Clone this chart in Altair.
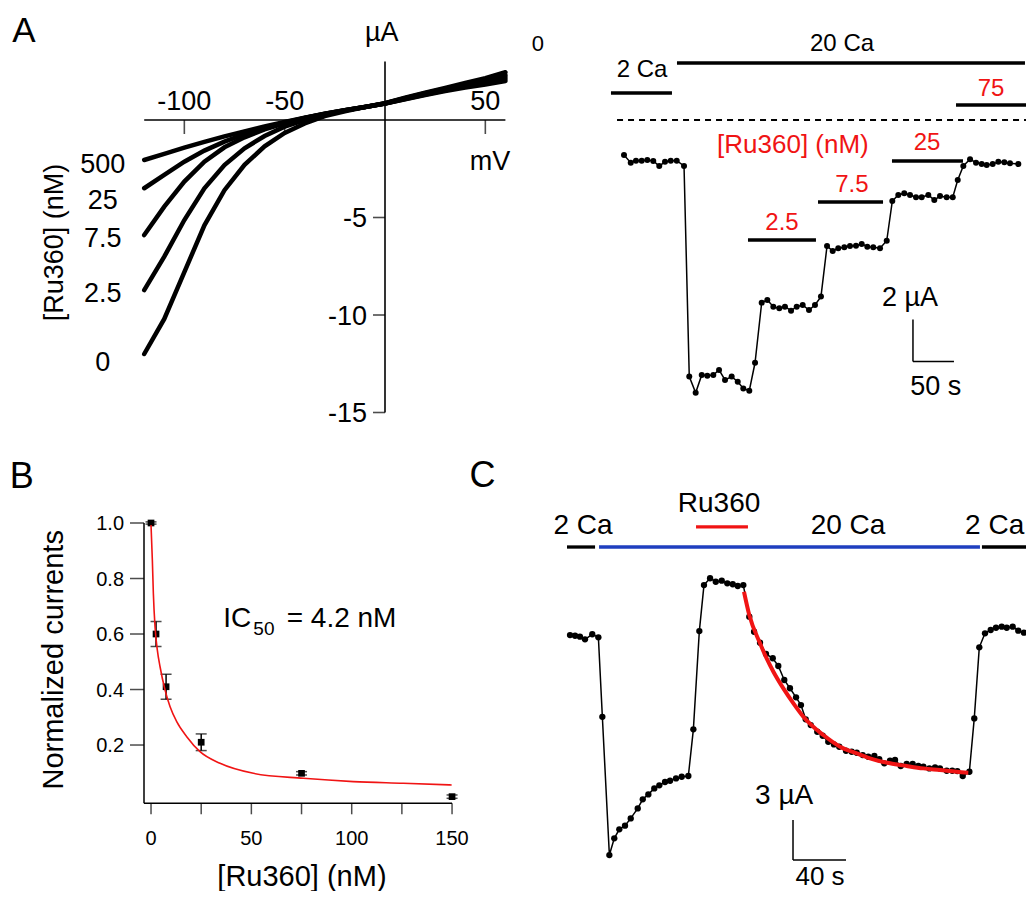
import altair as alt
import pandas as pd

FONT = "Liberation Sans, Arial, Helvetica, sans-serif"
W, H, M = 1018, 883, 8
RED = "#f01414"
BLUE = "#1f3fbf"

# ---------------- Panel A (left): I-V curves ----------------
iv_mv = [-120, -110, -100, -90, -80, -70, -60, -50, -40, -30, -20, -10, 0, 10, 20, 30, 40, 50, 60]
iv_conc = ["0", "2.5", "7.5", "25", "500"]
iv_c0 = [-12.0, -10.2, -7.8, -5.4, -3.6, -2.3, -1.35, -0.66, -0.18, 0.2, 0.45, 0.66, 0.86, 1.14, 1.40, 1.65, 1.9, 2.15, 2.45]
iv_c2_5 = [-8.72, -7.01, -5.13, -3.50, -2.31, -1.45, -0.82, -0.34, 0.0, 0.29, 0.49, 0.67, 0.86, 1.12, 1.37, 1.60, 1.83, 2.05, 2.3]
iv_c7_5 = [-5.90, -4.44, -3.16, -2.14, -1.40, -0.89, -0.48, -0.17, 0.10, 0.31, 0.50, 0.67, 0.85, 1.10, 1.34, 1.56, 1.78, 1.98, 2.2]
iv_c25 = [-3.50, -2.82, -2.14, -1.57, -1.11, -0.72, -0.40, -0.12, 0.11, 0.32, 0.50, 0.67, 0.84, 1.08, 1.31, 1.52, 1.72, 1.9, 2.1]
iv_c500 = [-2.05, -1.74, -1.42, -1.12, -0.84, -0.58, -0.33, -0.10, 0.12, 0.32, 0.50, 0.67, 0.84, 1.06, 1.28, 1.48, 1.66, 1.82, 2.0]
iv_xticks = [-100, -50, 50]
iv_xtick_labels = ["-100", "-50", "50"]
iv_yticks = [-5, -10, -15]
iv_ytick_labels = ["-5", "-10", "-15"]
iv_conc_label_y = [-12.4, -8.85, -6.03, -4.05, -2.22]

# ---------------- Panel A (right): time course ----------------
ar_t = [0, 8.2, 14.6, 21.6, 28.4, 35.7, 43.0, 50.0, 57.0, 64.3, 73.2, 79.6, 87.4, 94.8, 101.6, 108.9,
        115.9, 123.2, 131.3, 138.7, 145.5, 152.8, 159.8, 167.9, 174.8, 182.1, 189.4, 196.3, 203.7, 210.6,
        217.9, 225.6, 232.9, 240.2, 247.6, 254.5, 261.3, 268.7, 275.6, 282.9, 289.9, 296.7, 304.0, 312.2,
        320.4, 327.2, 334.5, 341.8, 348.8, 356.1, 363.0, 371.1, 378.4, 385.4, 393.5, 400.9, 407.0, 413.8,
        422.0, 429.3, 436.2, 442.3, 449.6, 456.5, 463.8, 470.7, 480.9]
ar_i = [-1.67, -2.03, -1.94, -1.94, -1.90, -1.95, -2.19, -1.99, -1.94, -1.94, -2.19,
        -12.22, -12.99, -12.14, -12.18, -12.14, -11.90, -12.38, -12.22, -12.46, -12.78, -12.89,
        -11.56, -8.70, -8.57, -8.89, -8.97, -8.89, -9.08, -8.89, -8.81, -9.05, -8.81, -8.41,
        -6.00, -6.24, -6.11, -6.06, -6.00, -5.99, -5.90, -6.03, -6.06, -6.11, -5.75,
        -3.86, -3.57, -3.49, -3.57, -3.68, -3.68, -3.57, -3.81, -3.62, -3.68, -3.68,
        -2.86, -2.19, -1.87, -2.03, -2.10, -2.14, -2.10, -1.99, -2.01, -2.06, -2.10]
ar_bar_start = [64.6, -15.9, 404.9, 326.8, 236.6, 151.2]
ar_bar_end = [489.0, 58.5, 491.5, 413.4, 315.9, 234.1]
ar_bar_level = [2.71, 1.29, 0.71, -1.95, -3.90, -5.71]
ar_zero_start, ar_zero_end = -8.5, 491.5
ar_red_labels = ["75", "[Ru360] (nM)", "25", "7.5", "2.5"]
ar_red_x = [447.6, 206.0, 369.5, 278.0, 192.7]
ar_red_y = [1.57, -1.1, -1.0, -3.0, -4.81]
ar_red_size = [24, 26, 24, 24, 24]
ar_black_labels = ["20 Ca", "2 Ca", "0"]
ar_black_x = [265.9, 22.0, -104.9]
ar_black_y = [3.67, 2.43, 3.67]
ar_black_size = [24, 24, 22]
ar_sb_t0, ar_sb_len = 352.4, 50      # 50 s
ar_sb_i0, ar_sb_amp = -11.5, 2       # 2 µA

# ---------------- Panel B: dose response ----------------
b_conc = [0, 2.5, 7.5, 25, 75, 150]
b_norm = [1.0, 0.60, 0.41, 0.21, 0.098, 0.014]
b_err = [0.004, 0.045, 0.045, 0.03, 0.006, 0.006]
b_fit_x = [0.0, 0.66, 1.16, 2.0, 3.15, 4.5, 7.0, 9.5, 12.8, 17.8, 24.4, 34.4, 51.0, 75.9, 100.8, 125.7, 149.8]
b_fit_y = [0.993, 0.867, 0.747, 0.626, 0.542, 0.482, 0.398, 0.338, 0.284, 0.230, 0.176, 0.134, 0.098, 0.080, 0.068, 0.062, 0.056]
b_xticks = [0, 25, 50, 75, 100, 125, 150]
b_xlabels = [0, 50, 100, 150]
b_yticks = [0.2, 0.4, 0.6, 0.8, 1.0]
b_ylabels = ["0.2", "0.4", "0.6", "0.8", "1.0"]

# ---------------- Panel C: time course with washout ----------------
c_t = [0.0, 3.8, 7.5, 11.3, 16.8, 21.4, 24.4, 29.7, 33.4, 37.2,
       41.5, 45.8, 51.1, 54.9, 59.1, 63.6, 67.4, 71.7, 75.5, 80.0,
       84.3, 89.3, 93.1, 97.6, 101.1, 105.7, 110.0, 114.5, 118.7, 122.8,
       126.6, 130.8, 135.3, 138.9, 143.4, 147.9, 153.0, 157.2, 161.7, 166.0,
       170.6, 174.3, 177.9, 181.7, 186.6, 190.7, 194.9, 199.2, 203.2, 208.3,
       212.6, 216.4, 220.9, 225.1, 229.7, 233.4, 237.2, 241.5, 245.3, 249.6,
       254.1, 258.6, 262.9, 266.7, 271.2, 275.5, 279.2, 284.3, 288.5, 292.3,
       296.4, 301.4, 305.1, 308.9, 313.2, 317.5, 321.5, 325.8, 329.6, 334.1,
       338.3, 342.6]
c_i = [-5.63, -5.68, -5.75, -5.95, -5.57, -5.80, -11.76, -22.13, -20.88, -20.20,
       -19.93, -19.38, -18.63, -17.95, -17.58, -17.13, -16.90, -16.65, -16.56, -16.38,
       -16.26, -16.20, -12.70, -5.33, -1.88, -1.37, -1.63, -1.55, -1.75, -1.82,
       -1.95, -1.88, -4.25, -5.38, -6.20, -7.05, -7.37, -7.95, -9.00, -9.62,
       -10.30, -10.88, -11.95, -12.38, -12.88, -13.18, -13.63, -13.83, -14.01, -14.31,
       -14.38, -14.46, -14.63, -14.76, -14.70, -14.93, -15.25, -15.06, -15.00, -15.45,
       -15.30, -15.30, -15.45, -15.51, -15.63, -15.55, -15.63, -15.81, -15.81, -15.83,
       -16.20, -15.88, -11.88, -6.55, -5.50, -5.25, -5.08, -5.00, -5.08, -5.00,
       -5.30, -5.45]
c_fit_t = [131.3, 135.3, 143.4, 148.4, 153.5, 161.0, 168.6, 176.1, 191.2, 203.8, 216.4, 228.9, 241.5, 254.1, 266.7, 279.2, 291.8, 300.6]
c_fit_i = [-2.38, -4.13, -6.25, -7.38, -8.38, -9.63, -10.75, -11.75, -13.13, -14.0, -14.5, -14.95, -15.25, -15.45, -15.63, -15.75, -15.88, -15.95]
c_bar_start = [-2.3, 21.9, 310.9, 95.1]
c_bar_end = [18.9, 309.4, 344.9, 134.3]
c_bar_level = [0.975, 0.975, 0.975, 2.48]
c_bar_color = ["#000000", BLUE, "#000000", RED]
c_labels = ["2 Ca", "Ru360", "20 Ca", "2 Ca", "3 µA", "40 s"]
c_label_x = [9.8, 112.5, 209.8, 320.5, 161.6, 188.7]
c_label_y = [2.63, 4.35, 2.63, 2.63, -17.6, -23.7]
c_label_size = [28, 28, 28, 28, 28, 26]
c_sb_t0, c_sb_len = 168.3, 40        # 40 s
c_sb_i0, c_sb_amp = -22.5, 3         # 3 µA


# ---------------- helpers ----------------
def lin(domain, px0, px1):
    return alt.Scale(domain=domain, range=[px0 - M, px1 - M], nice=False, zero=False)


def XY(sx, sy, xf="x", yf="y"):
    return dict(x=alt.X(f"{xf}:Q", scale=sx, axis=None), y=alt.Y(f"{yf}:Q", scale=sy, axis=None))


def texts(df, sx, sy, size=None, **kw):
    props = dict(font=FONT, color="black", align="center", baseline="middle")
    if size is not None:
        props["fontSize"] = size
        props["dy"] = round(0.06 * size, 1)
    else:
        props["dy"] = 1.5
    props.update(kw)
    enc = XY(sx, sy)
    enc["text"] = alt.Text("label:N")
    if size is None:
        enc["size"] = alt.Size("fs:Q", scale=None)
    return alt.Chart(df).mark_text(**props).encode(**enc)


def hrules(df, sx, sy, **kw):
    enc = XY(sx, sy)
    enc["x2"] = alt.X2("x2:Q")
    return alt.Chart(df).mark_rule(**kw).encode(**enc)


def vrules(df, sx, sy, **kw):
    enc = XY(sx, sy)
    enc["y2"] = alt.Y2("y2:Q")
    return alt.Chart(df).mark_rule(**kw).encode(**enc)


# ---------------- Panel A left ----------------
sxA = lin([-120, 60], 144.2, 505.4)
syA = lin([-15, 3], 412.5, 61.5)
iv_rows = []
for name, vals in zip(iv_conc, [iv_c0, iv_c2_5, iv_c7_5, iv_c25, iv_c500]):
    for v, cur in zip(iv_mv, vals):
        iv_rows.append({"x": v, "y": cur, "conc": name})
iv_df = pd.DataFrame(iv_rows)

a_curves = alt.Chart(iv_df).mark_line(color="black", strokeWidth=4.5, strokeCap="round").encode(
    detail="conc:N", **XY(sxA, syA))
a_xaxis = hrules(pd.DataFrame({"x": [iv_mv[0]], "x2": [iv_mv[-1]], "y": [0]}), sxA, syA, color="black", strokeWidth=1.6)
a_yaxis = vrules(pd.DataFrame({"x": [0], "y": [-15], "y2": [3]}), sxA, syA, color="black", strokeWidth=1.6)
a_xt = alt.Chart(pd.DataFrame({"x": iv_xticks, "y": [0] * 3})).mark_tick(
    orient="vertical", size=14, thickness=1.6, yOffset=7, color="black").encode(**XY(sxA, syA))
a_yt = alt.Chart(pd.DataFrame({"x": [0] * 3, "y": iv_yticks})).mark_tick(
    orient="horizontal", size=12, thickness=1.6, xOffset=-6, color="black").encode(**XY(sxA, syA))
a_xl = texts(pd.DataFrame({"x": iv_xticks, "y": [1.0] * 3, "label": iv_xtick_labels}), sxA, syA, 27)
a_yl = texts(pd.DataFrame({"x": [-9] * 3, "y": iv_yticks, "label": iv_ytick_labels}), sxA, syA, 27, align="right")
a_cl = texts(pd.DataFrame({"x": [-140.7] * 5, "y": iv_conc_label_y, "label": iv_conc}), sxA, syA, 27)
a_misc = texts(pd.DataFrame({"x": [-1.6, 52.3], "y": [4.53, -2.09], "label": ["µA", "mV"]}), sxA, syA, 27)
a_title = texts(pd.DataFrame({"x": [-165.4], "y": [-6.28], "label": ["[Ru360] (nM)"]}), sxA, syA, 27, angle=270)
a_panel = texts(pd.DataFrame({"x": [-180], "y": [4.68], "label": ["A"]}), sxA, syA, 35)
panel_a_left = alt.layer(a_xaxis, a_yaxis, a_xt, a_yt, a_curves, a_xl, a_yl, a_cl, a_misc, a_title, a_panel)

# ---------------- Panel A right ----------------
sxR = lin([-110, 500], 533.8, 1034.0)
syR = lin([-14, 4], 414.0, 36.0)
ar_df = pd.DataFrame({"x": ar_t, "y": ar_i})
r_line = alt.Chart(ar_df).mark_line(color="black", strokeWidth=1.5).encode(**XY(sxR, syR))
r_pts = alt.Chart(ar_df).mark_circle(color="black", size=36, opacity=1).encode(**XY(sxR, syR))
r_bars = hrules(pd.DataFrame({"x": ar_bar_start, "x2": ar_bar_end, "y": ar_bar_level}), sxR, syR,
                color="black", strokeWidth=3.5)
r_zero = hrules(pd.DataFrame({"x": [ar_zero_start], "x2": [ar_zero_end], "y": [0]}), sxR, syR,
                color="black", strokeWidth=1.8, strokeDash=[6, 5])
r_sb_v = vrules(pd.DataFrame({"x": [ar_sb_t0], "y": [ar_sb_i0], "y2": [ar_sb_i0 + ar_sb_amp]}), sxR, syR,
                color="black", strokeWidth=1.5)
r_sb_h = hrules(pd.DataFrame({"x": [ar_sb_t0], "x2": [ar_sb_t0 + ar_sb_len], "y": [ar_sb_i0]}), sxR, syR,
                color="black", strokeWidth=1.5)
r_red = texts(pd.DataFrame({"x": ar_red_x, "y": ar_red_y, "label": ar_red_labels, "fs": ar_red_size}),
              sxR, syR, None, color=RED)
r_black = texts(pd.DataFrame({"x": ar_black_x, "y": ar_black_y, "label": ar_black_labels, "fs": ar_black_size}),
                sxR, syR, None)
r_sb_text = texts(pd.DataFrame({"x": [348.8, 380.3], "y": [-8.38, -12.66], "label": ["2 µA", "50 s"]}),
                  sxR, syR, 27)
panel_a_right = alt.layer(r_bars, r_zero, r_sb_v, r_sb_h, r_line, r_pts, r_red, r_black, r_sb_text)

# ---------------- Panel B ----------------
sxB = lin([-3.5, 150], 144.0, 452.05)
syB = lin([-0.01, 1.0], 803.3, 523.0)
b_xaxis = hrules(pd.DataFrame({"x": [-3.5], "x2": [150], "y": [-0.01]}), sxB, syB, color="black", strokeWidth=1.5)
b_yaxis = vrules(pd.DataFrame({"x": [-3.5], "y": [-0.01], "y2": [1.0]}), sxB, syB, color="black", strokeWidth=1.5)
b_xt = alt.Chart(pd.DataFrame({"x": b_xticks, "y": [-0.01] * len(b_xticks)})).mark_tick(
    orient="vertical", size=11, thickness=1.5, yOffset=5.5, color="black").encode(**XY(sxB, syB))
b_yt = alt.Chart(pd.DataFrame({"x": [-3.5] * len(b_yticks), "y": b_yticks})).mark_tick(
    orient="horizontal", size=14, thickness=1.5, xOffset=-7, color="black").encode(**XY(sxB, syB))
b_xl = texts(pd.DataFrame({"x": b_xlabels, "y": [-0.135] * 4, "label": [str(v) for v in b_xlabels]}), sxB, syB, 20)
b_yl = texts(pd.DataFrame({"x": [-13.45] * 5, "y": b_yticks, "label": b_ylabels}), sxB, syB, 20, align="right")
b_xtitle = texts(pd.DataFrame({"x": [75.2], "y": [-0.268], "label": ["[Ru360] (nM)"]}), sxB, syB, 29)
b_ytitle = texts(pd.DataFrame({"x": [-49.3], "y": [0.507], "label": ["Normalized currents"]}), sxB, syB, 29, angle=270)
b_panel = texts(pd.DataFrame({"x": [-64.4], "y": [1.173], "label": ["B"]}), sxB, syB, 36)
b_df = pd.DataFrame({"x": b_conc, "y": b_norm,
                     "lo": [v - e for v, e in zip(b_norm, b_err)],
                     "hi": [v + e for v, e in zip(b_norm, b_err)]})
b_err_rule = alt.Chart(b_df).mark_rule(color="black", strokeWidth=1.5).encode(
    x=alt.X("x:Q", scale=sxB, axis=None), y=alt.Y("lo:Q", scale=syB, axis=None), y2="hi:Q")
b_cap_lo = alt.Chart(b_df).mark_tick(orient="horizontal", size=11, thickness=1.5, color="black").encode(
    x=alt.X("x:Q", scale=sxB, axis=None), y=alt.Y("lo:Q", scale=syB, axis=None))
b_cap_hi = alt.Chart(b_df).mark_tick(orient="horizontal", size=11, thickness=1.5, color="black").encode(
    x=alt.X("x:Q", scale=sxB, axis=None), y=alt.Y("hi:Q", scale=syB, axis=None))
b_pts = alt.Chart(b_df).mark_square(color="black", size=45, opacity=1).encode(**XY(sxB, syB))
b_fit = alt.Chart(pd.DataFrame({"x": b_fit_x, "y": b_fit_y})).mark_line(
    color=RED, strokeWidth=1.6, interpolate="monotone").encode(**XY(sxB, syB))
b_ic = texts(pd.DataFrame({"x": [36.0, 67.6], "y": [0.66, 0.66], "label": ["IC", "= 4.2 nM"]}), sxB, syB, 28, align="left")
b_ic_sub = texts(pd.DataFrame({"x": [51.0], "y": [0.622], "label": ["50"]}), sxB, syB, 19, align="left")
panel_b = alt.layer(b_xaxis, b_yaxis, b_xt, b_yt, b_xl, b_yl, b_xtitle, b_ytitle, b_panel,
                    b_err_rule, b_cap_lo, b_cap_hi, b_pts, b_fit, b_ic, b_ic_sub)

# ---------------- Panel C ----------------
sxC = lin([-5, 350], 563.4, 1033.75)
syC = lin([-25, 5], 893.3, 493.35)
c_df = pd.DataFrame({"x": c_t, "y": c_i})
c_line = alt.Chart(c_df).mark_line(color="black", strokeWidth=1.5).encode(**XY(sxC, syC))
c_pts = alt.Chart(c_df).mark_circle(color="black", size=40, opacity=1).encode(**XY(sxC, syC))
c_fit = alt.Chart(pd.DataFrame({"x": c_fit_t, "y": c_fit_i})).mark_line(
    color=RED, strokeWidth=4, interpolate="monotone").encode(**XY(sxC, syC))
c_bars = alt.Chart(pd.DataFrame({"x": c_bar_start, "x2": c_bar_end, "y": c_bar_level, "c": c_bar_color})).mark_rule(
    strokeWidth=3.3).encode(x2="x2:Q", color=alt.Color("c:N", scale=None), **XY(sxC, syC))
c_sb_v = vrules(pd.DataFrame({"x": [c_sb_t0], "y": [c_sb_i0], "y2": [c_sb_i0 + c_sb_amp]}), sxC, syC,
                color="black", strokeWidth=1.5)
c_sb_h = hrules(pd.DataFrame({"x": [c_sb_t0], "x2": [c_sb_t0 + c_sb_len], "y": [c_sb_i0]}), sxC, syC,
                color="black", strokeWidth=1.5)
c_text = texts(pd.DataFrame({"x": c_label_x, "y": c_label_y, "label": c_labels, "fs": c_label_size}),
               sxC, syC, None)
c_panel = texts(pd.DataFrame({"x": [-66.0], "y": [6.5], "label": ["C"]}), sxC, syC, 36)
panel_c = alt.layer(c_bars, c_sb_v, c_sb_h, c_line, c_pts, c_fit, c_text, c_panel)

chart = alt.layer(panel_a_left, panel_a_right, panel_b, panel_c).resolve_scale(
    x="independent", y="independent"
).properties(
    width=W, height=H, padding=0, autosize=alt.AutoSizeParams(type="none")
).configure_view(stroke=None)

chart.save("out.html", embed_options={"renderer": "svg", "actions": False})
